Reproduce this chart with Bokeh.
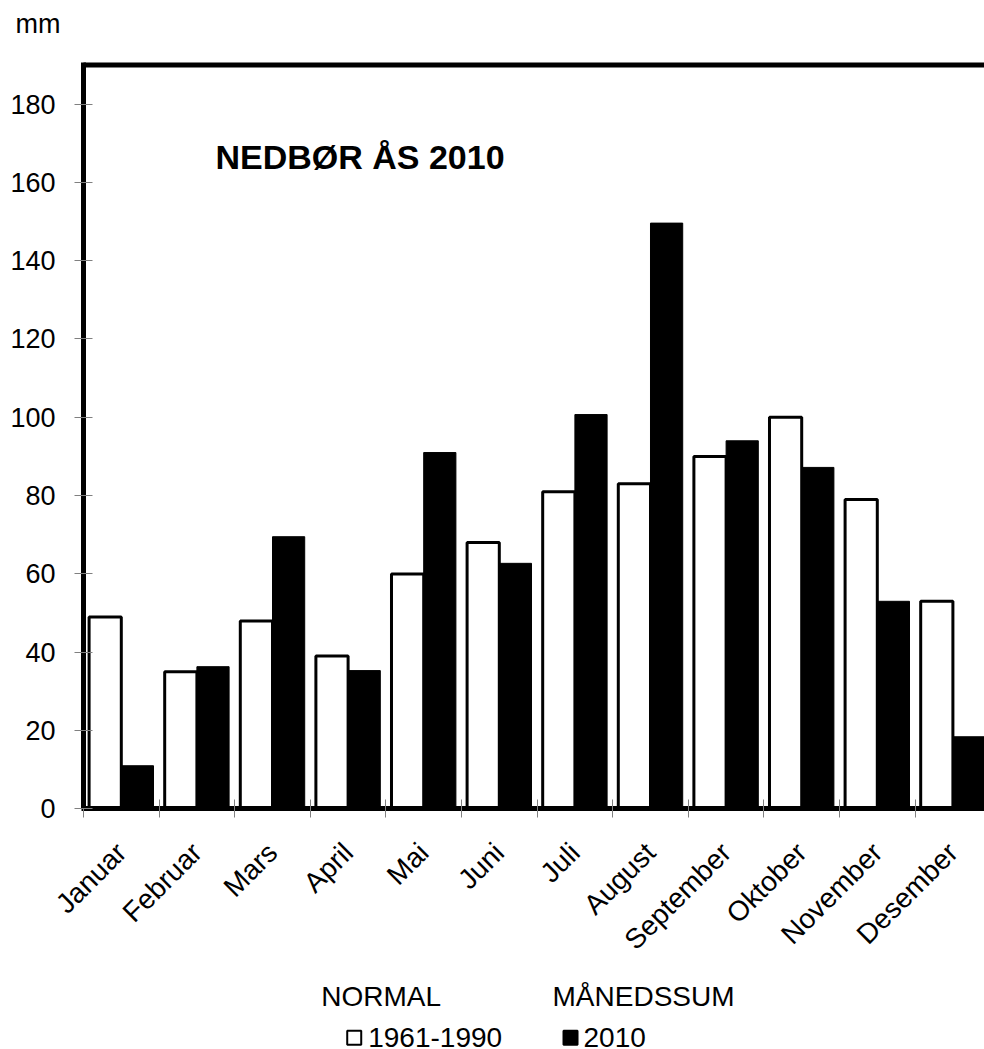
import math
from bokeh.plotting import figure
from bokeh.models import Range1d, LinearAxis, FixedTicker, CustomJSTickFormatter
from bokeh.core.properties import value
from bokeh.embed import file_html
from bokeh.resources import INLINE

# ---- data ----
months = ["Januar", "Februar", "Mars", "April", "Mai", "Juni", "Juli",
          "August", "September", "Oktober", "November", "Desember"]
normal_1961_1990 = [49, 35, 48, 39, 60, 68, 81, 83, 90, 100, 79, 53]
sum_2010 = [11, 36.3, 69.5, 35.3, 91, 62.7, 100.7, 149.6, 94, 87.2, 53, 18.4]
y_ticks = [0, 20, 40, 60, 80, 100, 120, 140, 160, 180]
title_text = "NEDBØR ÅS 2010"
legend_head = ["NORMAL", "MÅNEDSSUM"]
legend_items = ["1961-1990", "2010"]
unit_text = "mm"

FONT = "Liberation Sans"

p = figure(width=984, height=1049, output_backend="svg", toolbar_location=None,
           x_range=Range1d(-1.0979, 11.918), y_range=Range1d(-61.48, 206.46),
           x_axis_type=None, y_axis_type=None,
           min_border_left=0, min_border_right=0, min_border_top=0, min_border_bottom=0)
p.outline_line_color = None
p.background_fill_color = "white"
p.border_fill_color = "white"

n = len(months)
bw = 0.426
xs_white = [i + 0.5 - bw / 2 for i in range(n)]
xs_black = [i + 0.5 + bw / 2 for i in range(n)]
p.vbar(x=xs_white, top=normal_1961_1990, bottom=0, width=bw,
       fill_color="white", line_color="black", line_width=3)
p.vbar(x=xs_black, top=sum_2010, bottom=0, width=bw,
       fill_color="black", line_color="black", line_width=1)

# top border
p.segment(x0=[0], y0=[190], x1=[12], y1=[190], line_color="black", line_width=5)

# y axis (placed at x = 0)
yax = LinearAxis(fixed_location=0, ticker=FixedTicker(ticks=y_ticks), bounds=(0, 190.6),
                 axis_line_width=5, axis_line_color="black",
                 major_tick_in=9, major_tick_out=9, major_tick_line_color="#808080",
                 major_tick_line_width=1, minor_tick_in=0, minor_tick_out=0,
                 major_label_standoff=19, major_label_text_font=FONT,
                 major_label_text_font_size="27px", major_label_text_color="black")
p.add_layout(yax, "left")

# x axis: labels at category centres, boundary ticks as minor ticks
xax = LinearAxis(fixed_location=0,
                 ticker=FixedTicker(ticks=[i + 0.5 for i in range(n)],
                                    minor_ticks=list(range(n + 1))),
                 bounds=(-0.03, 12), axis_line_width=5, axis_line_color="black",
                 major_tick_in=0, major_tick_out=0, major_tick_line_color=None,
                 minor_tick_in=9, minor_tick_out=9, minor_tick_line_color="#808080",
                 minor_tick_line_width=1,
                 major_label_orientation=math.pi / 4, major_label_standoff=30,
                 formatter=CustomJSTickFormatter(args=dict(names=months),
                                                 code="return names[Math.round(tick - 0.5)] || '';"),
                 major_label_text_font=FONT, major_label_text_font_size="28px",
                 major_label_text_color="black")
p.add_layout(xax, "below")

# title
p.text(x=[1.746], y=[166.4], text=[title_text], text_font=value(FONT),
       text_font_style="bold", text_font_size="34px", text_baseline="alphabetic",
       text_align="left", text_color="black")

# unit label
p.text(x=[-0.899], y=[200.45], text=[unit_text], text_font=value(FONT),
       text_font_size="27px", text_baseline="alphabetic", text_align="left",
       text_color="black")

# legend
p.text(x=[3.144, 6.204], y=[-47.95, -47.95], text=legend_head, text_font=value(FONT),
       text_font_size="28px", text_baseline="alphabetic", text_align="left",
       text_color="black")
p.rect(x=[3.581], y=[-58.5], width=14, height=14, width_units="screen",
       height_units="screen", fill_color="white", line_color="black", line_width=2)
p.rect(x=[6.442], y=[-58.5], width=14, height=14, width_units="screen",
       height_units="screen", fill_color="black", line_color="black", line_width=2)
p.text(x=[3.766, 6.614], y=[-58.45, -58.45], text=legend_items, text_font=value(FONT),
       text_font_size="28px", text_baseline="alphabetic", text_align="left",
       text_color="black")

open("out.html", "w").write(file_html(p, INLINE))
